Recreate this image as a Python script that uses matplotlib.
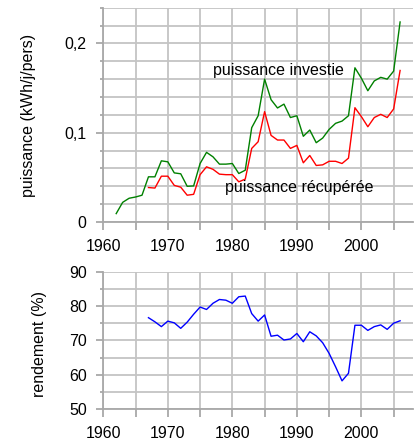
import matplotlib
matplotlib.use("Agg")
import matplotlib.pyplot as plt
import numpy as np

plt.rcParams['font.family'] = ['Liberation Sans', 'DejaVu Sans']

# puissance investie / récupérée (kWh/j/pers)
years_inv = list(range(1962, 2007))
p_investie = [0.0094, 0.022, 0.0266, 0.028, 0.030, 0.0506, 0.0506, 0.0685, 0.0674, 0.055,
              0.054, 0.040, 0.0404, 0.0655, 0.078, 0.073, 0.0648, 0.0648, 0.0655, 0.0543,
              0.058, 0.1056, 0.119, 0.160, 0.137, 0.1277, 0.132, 0.117, 0.119, 0.096,
              0.103, 0.0888, 0.094, 0.1037, 0.1105, 0.113, 0.119, 0.1727, 0.161, 0.147,
              0.158, 0.162, 0.160, 0.169, 0.224]

years_rec = list(range(1967, 2007))
p_recuperee = [0.0386, 0.038, 0.0513, 0.0513, 0.041, 0.039, 0.030, 0.031, 0.053, 0.0618,
               0.059, 0.0536, 0.053, 0.053, 0.045, 0.048, 0.0824, 0.0899, 0.1236, 0.097,
               0.0918, 0.0918, 0.0824, 0.0858, 0.0663, 0.0745, 0.0633, 0.064, 0.068, 0.068,
               0.0655, 0.0715, 0.128, 0.118, 0.1067, 0.117, 0.1206, 0.117, 0.1266, 0.1697]

# rendement (%)
rendement = [76.6, 75.4, 74.0, 75.6, 75.1, 73.5, 75.3, 77.6, 79.7, 79.0,
             80.8, 81.9, 81.7, 80.8, 82.7, 82.9, 77.8, 75.6, 77.4, 71.2,
             71.5, 70.1, 70.4, 72.0, 69.6, 72.5, 71.3, 69.3, 66.2, 62.3,
             58.2, 60.4, 74.4, 74.4, 72.9, 74.0, 74.5, 73.2, 75.0, 75.7]

W, H = 418, 444
fig = plt.figure(figsize=(W / 100, H / 100), dpi=100)

grid_c = '#c4c4c4'
spine_c = '#a8a8a8'
fs = 11.5


def style(ax, ymin, ymax, ymaj, ymin_step):
    ax.set_xlim(1960, 2008)
    ax.set_ylim(ymin, ymax)
    ax.set_xticks(np.arange(1960, 2006, 10))
    ax.set_xticks(np.arange(1965, 2006, 10), minor=True)
    ax.set_yticks(np.arange(ymin, ymax + 1e-9, ymaj))
    ax.set_yticks(np.arange(ymin, ymax + 1e-9, ymin_step), minor=True)
    ax.grid(True, which='both', color=grid_c, linewidth=1.3)
    ax.set_axisbelow(True)
    for s in ['top', 'right']:
        ax.spines[s].set_visible(False)
    for s in ['left', 'bottom']:
        ax.spines[s].set_color(spine_c)
        ax.spines[s].set_linewidth(1.3)
    ax.tick_params(axis='x', which='both', length=6, color=spine_c, width=1.3,
                   labelsize=fs, pad=6)
    ax.tick_params(axis='y', which='major', length=5, color=spine_c, width=1.3,
                   labelsize=fs, pad=7)
    ax.tick_params(axis='y', which='minor', length=2.5, color=spine_c, width=1.3)


ax1 = fig.add_axes([103.3 / W, 1 - 222 / H, (413 - 103.3) / W, (222 - 7.7) / H])
ax1.plot(years_inv, p_investie, color='#008000', linewidth=1.0)
ax1.plot(years_rec, p_recuperee, color='#ff0000', linewidth=1.0)
style(ax1, 0, 0.24, 0.1, 0.02)
ax1.set_yticks([0, 0.1, 0.2])
ax1.set_yticklabels(['0', '0,1', '0,2'])
ax1.set_ylabel('puissance (kWh/j/pers)', fontsize=fs, va='center')
ax1.yaxis.set_label_coords((28 - 103.3) / 309.7, 0.495)
ax1.text(1977.0, 0.1697, 'puissance investie', fontsize=fs, ha='left', va='center')
ax1.text(1978.8, 0.0386, 'puissance récupérée', fontsize=fs, ha='left', va='center')

ax2 = fig.add_axes([103.3 / W, 1 - 409 / H, (413 - 103.3) / W, (409 - 271.7) / H])
ax2.plot(years_rec, rendement, color='#0000ff', linewidth=1.0)
style(ax2, 50, 90, 10, 5)
ax2.set_ylabel('rendement (%)', fontsize=fs, va='center')
ax2.yaxis.set_label_coords((39 - 103.3) / 309.7, 0.47)

fig.savefig('out.png', dpi=100)
